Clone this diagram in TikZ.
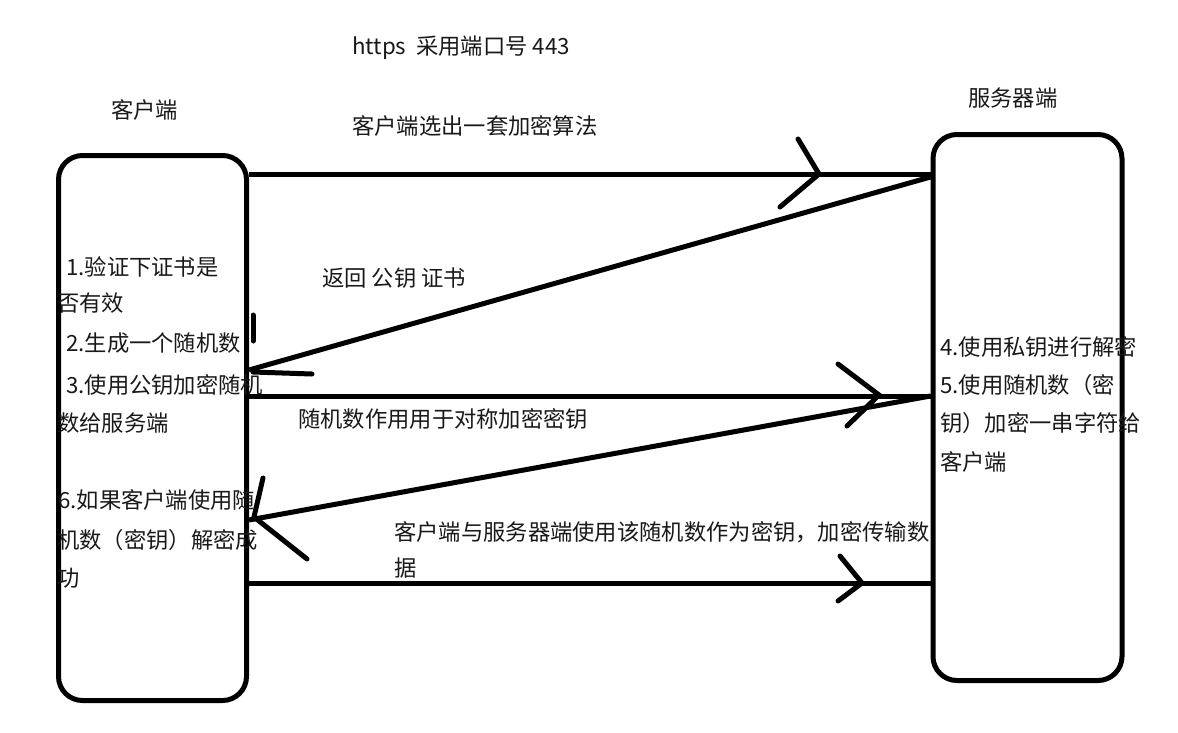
\documentclass[tikz,border=0pt]{standalone}
\usepackage{fontspec}
\setmainfont{Noto Sans CJK SC}
\begin{document}
\begin{tikzpicture}[x=1pt,y=-1pt,
  box/.style={draw=black, line width=5pt, rounded corners=24pt, inner sep=0pt},
  conn/.style={draw=black, line width=5pt},
  tip/.style={draw=black, line width=5pt, line cap=round},
  lbl/.style={anchor=west, inner sep=0pt, text=black!90, font=\fontsize{22.3}{26}\selectfont}]
\useasboundingbox (0,0) rectangle (1178,732);
\fill[white] (0,0) rectangle (1178,732);

% boxes
\node[box, minimum width=188pt, minimum height=545pt] (L) at (152.5,428) {};
\node[box, minimum width=189pt, minimum height=546pt] (R) at (1027.5,407.5) {};

% titles
\node[lbl] (t0) at (352,48) {https\ \ 采用端口号 443};
\node[lbl] (tc) at (111,110) {客户端};
\node[lbl] (ts) at (968,98) {服务器端};

% connector 1
\coordinate (a1) at (L.east |- 0,174);
\coordinate (b1) at (R.west |- 0,174);
\draw[conn] (a1) -- (b1);
\draw[tip] (798,139) -- (819,174) -- (780,207);
\node[lbl] (m1) at (352,126) {客户端选出一套加密算法};

% connector 2
\coordinate (a2) at (R.west |- 0,177);
\coordinate (b2) at (L.east |- 0,370);
\draw[conn] (a2) -- (b2);
\draw[tip] (253,315) -- (253,341);
\draw[tip] (253,372) -- (312,374);
\node[lbl] (m2) at (322,278) {返回 公钥 证书};

% connector 3
\coordinate (a3) at (L.east |- 0,396);
\coordinate (b3) at (R.west |- 0,396);
\draw[conn] (a3) -- (b3);
\draw[tip] (838,364) -- (879,395) -- (847,426);
\node[lbl] (m3) at (298,419) {随机数作用用于对称加密密钥};

% connector 4
\coordinate (a4) at (R.west |- 0,396);
\coordinate (b4) at (L.east |- 0,520);
\draw[conn] (a4) -- (b4);
\draw[tip] (263,478) -- (254,517) -- (307,559);

% connector 5
\coordinate (a5) at (L.east |- 0,583);
\coordinate (b5) at (R.west |- 0,583);
\draw[conn] (a5) -- (b5);
\draw[tip] (840,556) -- (862,583) -- (838,601);
\node[lbl] (m5a) at (394,532) {客户端与服务器端使用该随机数作为密钥，加密传输数};
\node[lbl] (m5b) at (394,568) {据};

% client steps
\node[lbl] (l1) at (66,267) {1.验证下证书是};
\node[lbl] (l2) at (57,303) {否有效};
\node[lbl] (l3) at (66,343) {2.生成一个随机数};
\node[lbl] (l4) at (66,385) {3.使用公钥加密随机};
\node[lbl] (l5) at (57,423) {数给服务端};
\node[lbl] (l6) at (58,500) {6.如果客户端使用随};
\node[lbl] (l7) at (57,540) {机数（密钥）解密成};
\node[lbl] (l8) at (57,578) {功};

% server steps
\node[lbl] (r1) at (940,347) {4.使用私钥进行解密};
\node[lbl] (r2) at (940,385) {5.使用随机数（密};
\node[lbl] (r3) at (940,423) {钥）加密一串字符给};
\node[lbl] (r4) at (940,462) {客户端};
\end{tikzpicture}
\end{document}
